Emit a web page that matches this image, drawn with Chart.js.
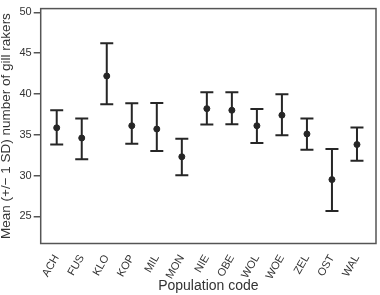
<!DOCTYPE html>
<html>
<head>
<meta charset="utf-8">
<script src="https://cdn.jsdelivr.net/npm/chart.js@4/dist/chart.umd.min.js"></script>
<style>
  html, body { margin: 0; padding: 0; background: #fff; }
  #wrap { width: 380px; height: 295px; }
</style>
</head>
<body>
<div id="wrap"><canvas id="chart-gill"></canvas></div>
<script>
// population codes and mean +/- 1 SD of gill raker counts
var categories = ['ACH', 'FUS', 'KLO', 'KOP', 'MIL', 'MON', 'NIE', 'OBE', 'WOL', 'WOE', 'ZEL', 'OST', 'WAL'];
var means = [35.85, 34.6, 42.2, 36.1, 35.7, 32.3, 38.2, 38.0, 36.1, 37.4, 35.1, 29.5, 33.8];
var upper = [38.0, 37.0, 46.2, 38.85, 38.9, 34.5, 40.2, 40.2, 38.15, 39.95, 37.0, 33.25, 35.9];
var lower = [33.8, 32.0, 38.75, 33.9, 33.0, 30.05, 36.25, 36.3, 34.0, 34.95, 33.15, 25.65, 31.8];
var yTicks = [25, 30, 35, 40, 45, 50];

var font = "'Liberation Sans', Arial, sans-serif";
var ink = '#262626';

var errorBars = {
    id: 'errorBars',
    beforeDatasetsDraw: function(chart) {
        var ctx = chart.ctx, x = chart.scales.x, y = chart.scales.y;
        ctx.save();
        ctx.strokeStyle = ink;
        ctx.lineWidth = 2;
        categories.forEach(function(c, i) {
            var px = x.getPixelForValue(i);
            var top = y.getPixelForValue(upper[i]);
            var bot = y.getPixelForValue(lower[i]);
            ctx.beginPath();
            ctx.moveTo(px, top); ctx.lineTo(px, bot);
            ctx.moveTo(px - 6.5, top); ctx.lineTo(px + 6.5, top);
            ctx.moveTo(px - 6.5, bot); ctx.lineTo(px + 6.5, bot);
            ctx.stroke();
        });
        ctx.restore();
    }
};

var frame = {
    id: 'frame',
    afterDraw: function(chart) {
        var a = chart.chartArea, ctx = chart.ctx;
        ctx.save();
        ctx.strokeStyle = '#555';
        ctx.lineWidth = 1.5;
        ctx.strokeRect(a.left, a.top, a.right - a.left, a.bottom - a.top);
        ctx.restore();
    }
};

var ctx = document.getElementById('chart-gill');
var gillChart = new Chart(ctx, {
    type: 'scatter',
    data: {
        datasets: [{
            data: means.map(function(m, i) { return { x: i, y: m }; }),
            backgroundColor: ink,
            borderColor: ink,
            pointRadius: 3,
            pointHoverRadius: 3
        }]
    },
    options: {
        responsive: true,
        maintainAspectRatio: false,
        animation: false,
        layout: { padding: { top: 3.5, right: 2.5, left: 0, bottom: 0 } },
        plugins: { legend: { display: false }, tooltip: { enabled: false } },
        scales: {
            x: {
                type: 'linear',
                min: -0.64,
                max: 12.76,
                afterBuildTicks: function(scale) {
                    scale.ticks = categories.map(function(c, i) { return { value: i }; });
                },
                afterFit: function(scale) { scale.height = 51.5; },
                grid: { display: false },
                border: { display: false },
                ticks: {
                    minRotation: 60,
                    maxRotation: 60,
                    padding: 1,
                    color: '#333',
                    font: { family: font, size: 11 },
                    callback: function(v) { return categories[v]; }
                },
                title: {
                    display: true,
                    text: 'Population code',
                    color: '#333',
                    padding: { top: 0, bottom: 0 },
                    font: { family: font, size: 14 }
                }
            },
            y: {
                min: 21.67,
                max: 50.46,
                afterBuildTicks: function(scale) {
                    scale.ticks = yTicks.map(function(v) { return { value: v }; });
                },
                afterFit: function(scale) { scale.width = 40.7; },
                grid: { drawOnChartArea: false, tickLength: 7, color: '#555', lineWidth: 1.5 },
                border: { display: false },
                ticks: {
                    padding: 2,
                    color: '#333',
                    font: { family: font, size: 11 }
                },
                title: {
                    display: true,
                    text: 'Mean (+/\u2212 1 SD) number of gill rakers',
                    color: '#333',
                    padding: { top: 0, bottom: 0 },
                    font: { family: font, size: 13.5, lineHeight: 1 }
                }
            }
        }
    },
    plugins: [errorBars, frame]
});
</script>
</body>
</html>
